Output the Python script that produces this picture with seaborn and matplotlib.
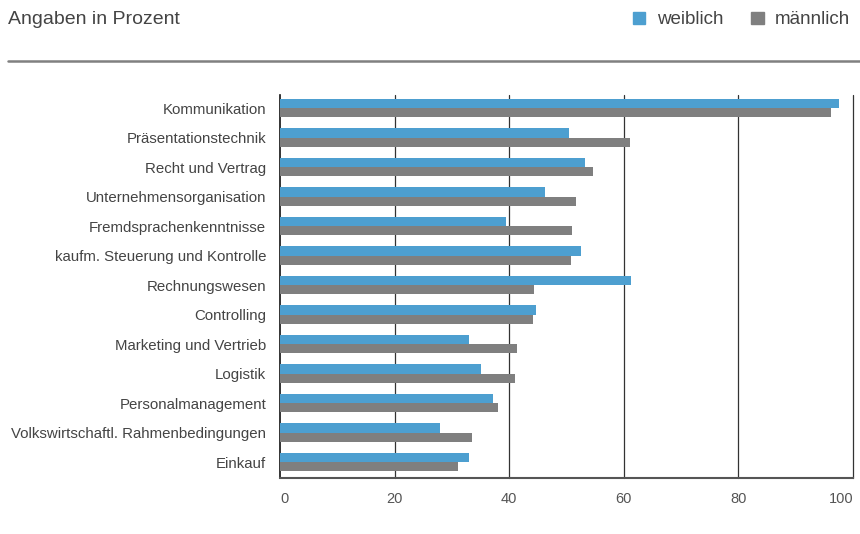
import pandas as pd
import numpy as np
import matplotlib.pyplot as plt
import seaborn as sns
from matplotlib.patches import Patch
from matplotlib.lines import Line2D

# Daten
kategorien = ["Kommunikation", "Präsentationstechnik", "Recht und Vertrag",
              "Unternehmensorganisation", "Fremdsprachenkenntnisse",
              "kaufm. Steuerung und Kontrolle", "Rechnungswesen", "Controlling",
              "Marketing und Vertrieb", "Logistik", "Personalmanagement",
              "Volkswirtschaftl. Rahmenbedingungen", "Einkauf"]
weiblich = [97.5, 50.5, 53.3, 46.2, 39.4, 52.5, 61.3, 44.6, 33.0, 35.1, 37.2, 27.9, 33.0]
maennlich = [96.1, 61.0, 54.7, 51.6, 50.9, 50.7, 44.4, 44.1, 41.3, 41.0, 38.0, 33.5, 31.1]
x_ticks = [0, 20, 40, 60, 80, 100]

blau = "#4d9fd0"
grau = "#7f7f7f"
textfarbe = "#444444"

df = pd.DataFrame({
    "kategorie": kategorien * 2,
    "wert": weiblich + maennlich,
    "geschlecht": ["weiblich"] * len(kategorien) + ["männlich"] * len(kategorien),
})

sns.set_style("white")
plt.rcParams["font.family"] = ["Liberation Sans", "DejaVu Sans"]

fig = plt.figure(figsize=(8.6, 5.34), dpi=100)
ax = fig.add_axes([0.3256, 0.1049, 0.6663, 0.717])

sns.barplot(data=df, y="kategorie", x="wert", hue="geschlecht", orient="h",
            palette={"weiblich": blau, "männlich": grau}, width=0.62,
            saturation=1, linewidth=0, legend=False, ax=ax, zorder=3)

ax.set_xlim(0, 100)
ax.set_ylim(len(kategorien) - 0.46, -0.44)
ax.set_xticks(x_ticks)
ax.set_xticklabels([str(t) for t in x_ticks], color="#555555", fontsize=10.5)
ax.get_xticklabels()[0].set_horizontalalignment("left")
ax.get_xticklabels()[-1].set_horizontalalignment("right")
ax.tick_params(axis="x", length=0, pad=10)
ax.tick_params(axis="y", length=0, pad=10, labelsize=10.8, labelcolor=textfarbe)
ax.set_xlabel("")
ax.set_ylabel("")

for t in x_ticks[1:]:
    ax.axvline(t, color="#333333", lw=0.9, zorder=1, clip_on=False)

for s in ["top", "right"]:
    ax.spines[s].set_visible(False)
ax.spines["left"].set_color("#111111")
ax.spines["left"].set_linewidth(1.2)
ax.spines["bottom"].set_color("#555555")
ax.spines["bottom"].set_linewidth(1.5)

# Kopfzeile
fig.text(8 / 860, 1 - 20 / 534, "Angaben in Prozent", fontsize=14, color=textfarbe,
         va="center", ha="left")
fig.add_artist(Line2D([8 / 860, 1.0], [1 - 61 / 534] * 2, color="#808080", lw=1.8))

handles = [Patch(color=blau, label="weiblich"), Patch(color=grau, label="männlich")]
leg = fig.legend(handles=handles, loc="center right", bbox_to_anchor=(1.008, 1 - 20 / 534),
                 ncol=2, frameon=False, fontsize=13.5, handlelength=0.65, handleheight=0.65,
                 handletextpad=0.6, columnspacing=1.5)
for t in leg.get_texts():
    t.set_color(textfarbe)

fig.savefig("out.png", dpi=100)
